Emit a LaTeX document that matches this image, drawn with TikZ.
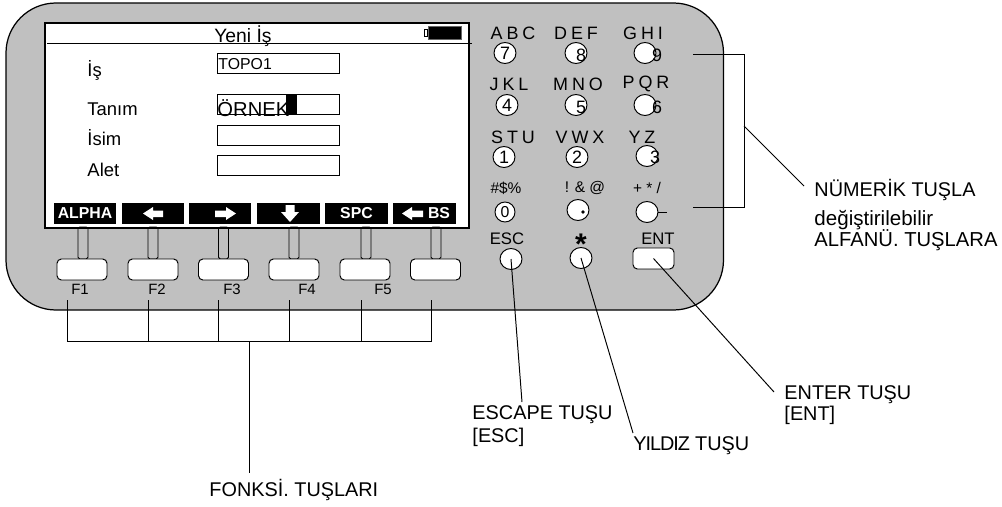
\documentclass[tikz,border=0pt]{standalone}
\usepackage{fontspec}
\usetikzlibrary{shapes.geometric}
\setmainfont{Liberation Sans}
\definecolor{bodygrey}{HTML}{C0C0C0}
\newcommand{\lettersfont}{\fontsize{10.2}{11}\selectfont\spaceskip=0.22em\relax}
\begin{document}
\begin{tikzpicture}[x=0.02cm, y=-0.02cm, line width=0.55pt,
    every node/.style={font=\fontsize{10.5}{12}\selectfont, inner sep=0pt},
    field/.style={draw, fill=white, minimum width=2.44cm, minimum height=0.4cm},
    softkey/.style={fill=black, text=white, minimum width=1.26cm, minimum height=0.42cm, font=\fontsize{9}{10}\selectfont\bfseries},
    stem/.style={draw, rounded corners=1pt, minimum width=0.2cm, minimum height=0.64cm},
    fnkey/.style={draw, fill=white, rounded corners=2.5pt, minimum width=1cm, minimum height=0.42cm},
    numkey/.style={draw, fill=white, ellipse, minimum width=0.44cm, minimum height=0.42cm, font=\fontsize{10.2}{11}\selectfont},
    lettertext/.style={font=\lettersfont},
    keytext/.style={font=\fontsize{9.5}{10}\selectfont},
    smalltext/.style={font=\fontsize{8.8}{10}\selectfont},
    calltext/.style={anchor=west, font=\fontsize{11.3}{13}\selectfont},
    whitearrow/.style={fill=white, draw=none}]
    \useasboundingbox (0,0) rectangle (1002,507);
    % body
    \draw[fill=bodygrey, line width=0.7pt, rounded corners=1cm] (6,3) rectangle (723.5,310);
    % screen
    \draw[fill=white, line width=0.7pt] (45,23) rectangle (469,228);
    \coordinate (titleL) at (47,43);
    \coordinate (titleR) at (472,43);
    \draw (titleL) -- (titleR);
    \node[font=\fontsize{11}{12}\selectfont] (title) at (243,36) {Yeni İş};
    \node[draw=black!60, fill=black, minimum width=0.66cm, minimum height=0.27cm] (battery) at (445,33) {};
    \node[draw, fill=white, minimum width=0.05cm, minimum height=0.14cm] (nub) at (426,32.5) {};
    % fields
    \node[anchor=west] (isLbl) at (87,70) {İş};
    \node[anchor=west] (tanimLbl) at (87,109) {Tanım};
    \node[anchor=west] (isimLbl) at (87,138) {İsim};
    \node[anchor=west] (aletLbl) at (87,170) {Alet};
    \node[field] (isBox) at (278,63) {};
    \node[field] (tanimBox) at (278,104.5) {};
    \node[field] (isimBox) at (278,135) {};
    \node[field] (aletBox) at (278,165.5) {};
    \node[fill=black, minimum width=0.22cm, minimum height=0.4cm] (cursor) at (291.5,104.5) {};
    \node[anchor=west, font=\fontsize{9}{10}\selectfont] (isVal) at (218,64) {TOPO1};
    \node[anchor=west, font=\fontsize{11.5}{12}\selectfont] (tanimVal) at (217,108) {ÖRNEK};
    % soft keys
    \node[softkey] (sk1) at (85,213.5) {ALPHA};
    \node[softkey] (sk2) at (153,213.5) {};
    \node[softkey] (sk3) at (220,213.5) {};
    \node[softkey] (sk4) at (288.5,213.5) {};
    \node[softkey] (sk5) at (356.5,213.5) {SPC};
    \node[softkey] (sk6) at (424.5,213.5) {};
    \fill[whitearrow] (143,213.5) -- (153,207) -- (153,210.5) -- (163,210.5) -- (163,217) -- (153,217) -- (153,220) -- cycle;
    \fill[whitearrow] (236,213.5) -- (226,207) -- (226,210.5) -- (215,210.5) -- (215,217) -- (226,217) -- (226,220) -- cycle;
    \fill[whitearrow] (290,222) -- (281,212) -- (285.5,212) -- (285.5,205) -- (294.5,205) -- (294.5,212) -- (299,212) -- cycle;
    \fill[whitearrow] (402,213.5) -- (412,207) -- (412,210.5) -- (423,210.5) -- (423,217) -- (412,217) -- (412,220) -- cycle;
    \node[font=\fontsize{9}{10}\selectfont\bfseries, text=white] (bsLbl) at (439,213.5) {BS};
    % function keys
    \node[stem] (st1) at (83,243) {};
    \node[stem] (st2) at (153,243) {};
    \node[stem] (st3) at (223.5,243) {};
    \node[stem] (st4) at (294,243) {};
    \node[stem] (st5) at (366,243) {};
    \node[stem] (st6) at (436,243) {};
    \node[fnkey] (fk1) at (82,269.5) {};
    \node[fnkey] (fk2) at (153,269.5) {};
    \node[fnkey] (fk3) at (223.5,269.5) {};
    \node[fnkey] (fk4) at (294,269.5) {};
    \node[fnkey] (fk5) at (365,269.5) {};
    \node[fnkey] (fk6) at (435.5,269.5) {};
    \node[font=\fontsize{8.5}{10}\selectfont] (f1) at (80,289) {F1};
    \node[font=\fontsize{8.5}{10}\selectfont] (f2) at (157,289) {F2};
    \node[font=\fontsize{8.5}{10}\selectfont] (f3) at (232,289) {F3};
    \node[font=\fontsize{8.5}{10}\selectfont] (f4) at (307,289) {F4};
    \node[font=\fontsize{8.5}{10}\selectfont] (f5) at (383,289) {F5};
    % bracket under the function keys
    \coordinate (br1) at (67,300);
    \coordinate (br2) at (148,300);
    \coordinate (br3) at (218,300);
    \coordinate (br4) at (289,300);
    \coordinate (br5) at (361,300);
    \coordinate (br6) at (431,300);
    \coordinate (brJ) at (249,341);
    \node[calltext] (fonksi) at (209,490) {FONKSİ. TUŞLARI};
    \draw (br1) -- (67,341) -- (431,341) -- (br6);
    \draw (br2) -- (148,341);
    \draw (br3) -- (218,341);
    \draw (br4) -- (289,341);
    \draw (br5) -- (361,341);
    \coordinate (fonksiEnd) at (249,473);
    \draw (brJ) -- (fonksiEnd);
    % number keys
    \node[lettertext] (abc) at (513,33) {A B C};
    \node[lettertext] (def) at (576,33) {D E F};
    \node[lettertext] (ghi) at (643,33) {G H I};
    \node[numkey] (k7) at (505,53) {7};
    \node[numkey] (k8) at (576,53) {};
    \node[numkey] (k9) at (645,53) {};
    \node[lettertext] (jkl) at (509,84) {J K L};
    \node[lettertext] (mno) at (578,84) {M N O};
    \node[lettertext] (pqr) at (646,84) {P Q R};
    \node[numkey] (k4) at (507,105) {4};
    \node[numkey] (k5) at (576,105) {};
    \node[numkey] (k6) at (645,105) {};
    \node[lettertext] (stu) at (513,137) {S T U};
    \node[lettertext] (vwx) at (580,137) {V W X};
    \node[lettertext] (yz) at (642,137) {Y Z};
    \node[numkey] (k1) at (504,157) {1};
    \node[numkey] (k2) at (577,157) {2};
    \node[numkey] (k3) at (647,156) {};
    \node[lettertext] (d8) at (581,55) {8};
    \node[lettertext] (d9) at (657,55) {9};
    \node[lettertext] (d5) at (581,107) {5};
    \node[lettertext] (d6) at (657,107) {6};
    \node[lettertext] (d3) at (655,157) {3};
    \node[smalltext] (hash) at (506,188) {\#\$\%};
    \node[smalltext] (bang) at (585,188) {! \& @};
    \node[smalltext] (plus) at (647,188) {+ * /};
    \node[numkey, minimum width=0.4cm, minimum height=0.4cm, font=\fontsize{9}{9}\selectfont] (k0) at (505,212) {0};
    \node[numkey] (kdot) at (578,210) {};
    \node[numkey] (kminus) at (647,212) {};
    \fill (583,212) circle (1.8);
    \coordinate (minusEnd) at (667,212);
    \draw (kminus) -- (minusEnd);
    % lower keys
    \node[keytext] (escLbl) at (507,239) {ESC};
    \node[font=\fontsize{17}{17}\selectfont\bfseries] (starLbl) at (581,244) {*};
    \node[keytext] (entLbl) at (658,239) {ENT};
    \node[numkey] (esc) at (511,259) {};
    \node[numkey] (star) at (581,258) {};
    \node[fnkey, minimum width=0.82cm] (ent) at (653.5,258.5) {};
    % callouts
    \node[calltext] (numLbl) at (814,190) {NÜMERİK TUŞLA};
    \node[calltext, font=\fontsize{11.7}{13}\selectfont] (degLbl) at (814,220) {değiştirilebilir};
    \node[calltext, font=\fontsize{11.5}{13}\selectfont] (alfaLbl) at (814,240) {ALFANÜ. TUŞLARA};
    \node[calltext] (enterLbl) at (784,395) {ENTER TUŞU};
    \node[calltext] (enterLbl2) at (784,415) {[ENT]};
    \node[calltext] (escapeLbl) at (472,415) {ESCAPE TUŞU};
    \node[calltext] (escapeLbl2) at (472,437) {[ESC]};
    \node[calltext] (yildizLbl) at (633,446) {Y\kern-0.6pt I\kern-0.6pt L\kern-0.6pt D\kern-0.6pt I\kern-0.6pt Z\kern-0.2pt\ TUŞU};
    \coordinate (numTop) at (693,54);
    \coordinate (numBot) at (693,207);
    \coordinate (numMid) at (744,126);
    \coordinate (numEnd) at (804,186);
    \coordinate (escEnd) at (522,402);
    \coordinate (starEnd) at (633,433);
    \coordinate (entEnd) at (774,392);
    \draw (numTop) -- (744,54) -- (744,207) -- (numBot);
    \draw (numMid) -- (numEnd);
    \draw (esc.center) -- (escEnd);
    \draw (star.center) -- (starEnd);
    \draw (ent.center) -- (entEnd);
\end{tikzpicture}
\end{document}
